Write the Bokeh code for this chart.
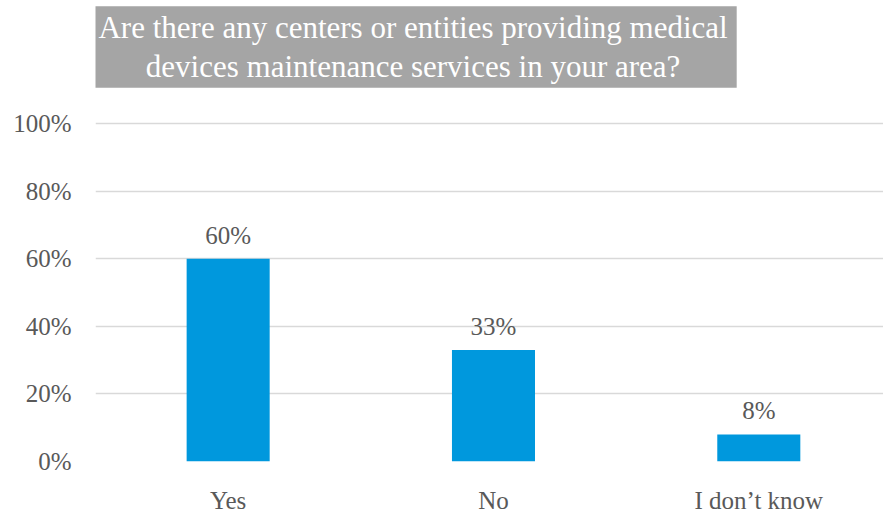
from bokeh.plotting import figure
from bokeh.models import ColumnDataSource, Label, LabelSet, FixedTicker, Range1d
from bokeh.embed import file_html
from bokeh.resources import INLINE

categories = ["Yes", "No", "I don\u2019t know"]
values = [60, 33, 8]
value_labels = ["60%", "33%", "8%"]
y_ticks = [0, 20, 40, 60, 80, 100]
y_tick_labels = ["0%", "20%", "40%", "60%", "80%", "100%"]
title_text = "Are there any centers or entities providing medical\ndevices maintenance services in your area?"

FONT = "Liberation Serif"
TXT = "#595959"
PX_PER_PCT = 3.38

xs = list(range(len(categories)))
src = ColumnDataSource(dict(x=xs, top=values, lab=value_labels))

p = figure(width=883, height=519, output_backend="svg", toolbar_location=None,
           x_range=Range1d(-0.5, 2.47), y_range=Range1d(0, 461 / PX_PER_PCT),
           min_border_left=95, min_border_right=0, min_border_top=0, min_border_bottom=58)
p.outline_line_color = None
p.background_fill_color = "white"
p.border_fill_color = "white"

p.vbar(x="x", top="top", width=0.313, source=src, color="#0098DD", line_color=None)

p.add_layout(LabelSet(x="x", y="top", text="lab", source=src, text_align="center",
                      text_baseline="bottom", y_offset=10, text_font_size="25px",
                      text_font=FONT, text_color=TXT))

p.yaxis.ticker = FixedTicker(ticks=y_ticks)
p.yaxis.major_label_overrides = {t: l for t, l in zip(y_ticks, y_tick_labels)}
p.yaxis.axis_line_color = None
p.yaxis.major_tick_line_color = None
p.yaxis.minor_tick_line_color = None
p.yaxis.major_label_text_font = FONT
p.yaxis.major_label_text_font_size = "25px"
p.yaxis.major_label_text_color = TXT
p.yaxis.major_label_standoff = 18

p.xaxis.ticker = FixedTicker(ticks=xs)
p.xaxis.major_label_overrides = {i: c for i, c in zip(xs, categories)}
p.xaxis.axis_line_color = None
p.xaxis.major_tick_line_color = None
p.xaxis.minor_tick_line_color = None
p.xaxis.major_label_text_font = FONT
p.xaxis.major_label_text_font_size = "25px"
p.xaxis.major_label_text_color = TXT
p.xaxis.major_label_standoff = 19

p.xgrid.grid_line_color = None
p.ygrid.grid_line_color = "#D9D9D9"
p.ygrid.grid_line_width = 1.5

p.add_layout(Label(x=0.697, y=(461 - 46.5) / PX_PER_PCT, text=title_text, text_align="center",
                   text_baseline="middle", text_font=FONT, text_font_size="31px",
                   text_color="white", background_fill_color="#A5A5A5",
                   text_line_height=1.1, padding=dict(left=9, right=9, top=4, bottom=4)))

open("out.html", "w").write(file_html(p, INLINE))
